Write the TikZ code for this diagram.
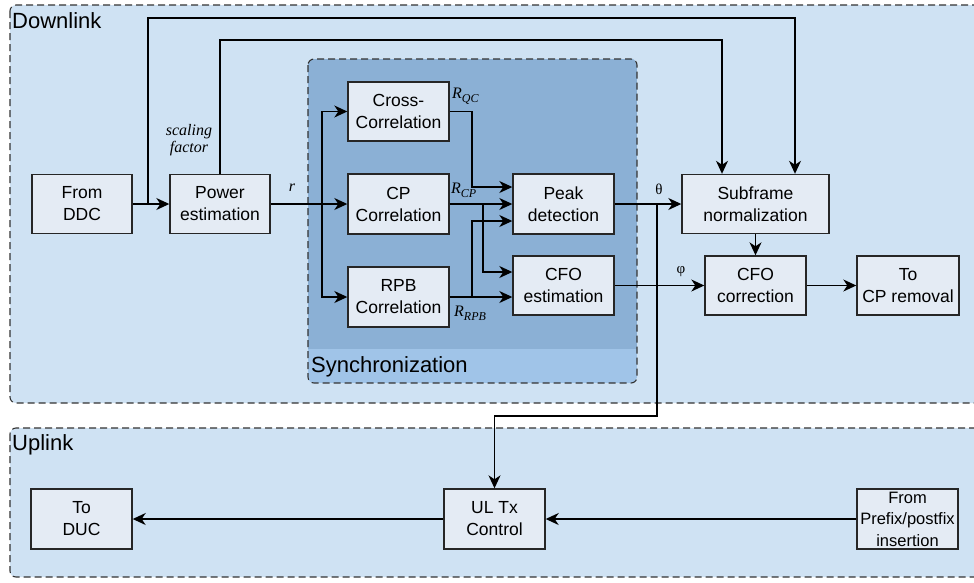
\documentclass[tikz,border=0pt]{standalone}
\usepackage{fontspec}
\setmainfont{Liberation Sans}
\newfontfamily\serifit{Liberation Serif}
\usetikzlibrary{arrows.meta}
\definecolor{regionblue}{RGB}{207,226,243}
\definecolor{syncdark}{RGB}{139,176,213}
\definecolor{syncband}{RGB}{160,196,232}
\definecolor{boxfill}{RGB}{228,235,244}
\begin{document}
\begin{tikzpicture}[x=1pt,y=-1pt,
  blk/.style={draw=black!85, line width=1.4pt, fill=boxfill, align=center,
    inner sep=0pt, font=\fontsize{17.5}{22}\selectfont},
  arr/.style={line width=1.4pt, -{Stealth[length=13pt,width=12pt,inset=4pt]}},
  region/.style={draw=black!80, line width=1.1pt, dash pattern=on 7pt off 4pt, rounded corners=6pt},
  lab/.style={font=\serifit\itshape\fontsize{16}{17}\selectfont, inner sep=0pt, align=center},
  glab/.style={font=\serifit\fontsize{15}{16}\selectfont, inner sep=0pt},
  ttl/.style={font=\fontsize{22}{24}\selectfont, inner sep=0pt, anchor=west}]
\useasboundingbox (0,0) rectangle (974,582);
% regions
\draw[region, fill=regionblue] (10,5) rectangle (1000,403);
\draw[region, fill=regionblue] (10,428) rectangle (1000,577);
\node[ttl] (tdown) at (12,21) {Downlink};
\node[ttl] (tup) at (12,445) {Uplink};
% synchronization
\begin{scope}
\clip[rounded corners=6pt] (308,59) rectangle (637,383);
\fill[syncband] (308,59) rectangle (637,383);
\fill[syncdark] (308,59) rectangle (637,349);
\end{scope}
\draw[region] (308,59) rectangle (637,383);
\node[ttl] (tsync) at (311,367) {Synchronization};
% blocks
\node[blk, minimum width=100pt, minimum height=59pt] (ddc) at (82,204) {From\\DDC};
\node[blk, minimum width=100pt, minimum height=59pt] (pow) at (220,204) {Power\\estimation};
\node[blk, minimum width=101pt, minimum height=59pt] (cross) at (398.5,111.5) {Cross-\\Correlation};
\node[blk, minimum width=101pt, minimum height=60pt] (cp) at (398.5,204) {CP\\Correlation};
\node[blk, minimum width=101pt, minimum height=60pt] (rpb) at (398.5,297) {RPB\\Correlation};
\node[blk, minimum width=101pt, minimum height=60pt] (peak) at (563.5,204) {Peak\\detection};
\node[blk, minimum width=101pt, minimum height=59pt] (cfoest) at (563.5,285.5) {CFO\\estimation};
\node[blk, minimum width=147pt, minimum height=59pt] (sub) at (755.5,204) {Subframe\\normalization};
\node[blk, minimum width=101pt, minimum height=59pt] (cfocor) at (755.5,285.5) {CFO\\correction};
\node[blk, minimum width=102pt, minimum height=59pt] (cprem) at (908,285.5) {To\\CP removal};
\node[blk, minimum width=101pt, minimum height=60pt] (duc) at (81.5,519) {To\\DUC};
\node[blk, minimum width=101pt, minimum height=60pt] (ultx) at (494.5,519) {UL Tx\\Control};
\node[blk, minimum width=101pt, minimum height=60pt, font=\fontsize{16.5}{21.5}\selectfont] (pre) at (907.5,519) {From\\Prefix/postfix\\insertion};
% branch points
\coordinate (b1) at (148,204);
\coordinate (b2) at (322,204);
\coordinate (b3) at (483,204);
\coordinate (b4) at (472,297);
\coordinate (b5) at (657,204);
% connectors
\draw[arr] (ddc) -- (pow);
\draw[arr] (b1) |- (795,18) -- ([xshift=39.5pt]sub.north);
\draw[arr] (pow.north) |- (722,40) -- ([xshift=-33.5pt]sub.north);
\draw[arr] (pow) -- (cp);
\draw[arr] (b2) |- (cross);
\draw[arr] (b2) |- (rpb);
\draw[arr] (cross.east) -| (472,187) -- ([yshift=17pt]peak.west);
\draw[arr] (cp) -- (peak);
\draw[arr] (b3) |- ([yshift=13.5pt]cfoest.west);
\draw[arr] (rpb.east) -- ([yshift=-11.5pt]cfoest.west);
\draw[arr] (b4) |- ([yshift=-17pt]peak.west);
\draw[arr] (peak) -- (sub);
\draw[arr] (b5) -- (657,416) -| (ultx.north);
\draw[arr] (cfoest) -- (cfocor);
\draw[arr] (sub) -- (cfocor);
\draw[arr] (cfocor) -- (cprem);
\draw[arr] (pre) -- (ultx);
\draw[arr] (ultx) -- (duc);
% labels
\node[lab] (lsf) at (189,140) {scaling\\factor};
\node[lab] (lr) at (292,188) {r};
\node[lab, anchor=west] (lqc) at (452,96) {R\raisebox{-4pt}{\fontsize{12}{12}\selectfont QC}};
\node[lab, anchor=west] (lcp) at (451,190) {R\raisebox{-4pt}{\fontsize{12}{12}\selectfont CP}};
\node[lab, anchor=west] (lrpb) at (454,313) {R\raisebox{-4pt}{\fontsize{12}{12}\selectfont RPB}};
\node[glab] (lth) at (659,189) {θ};
\node[glab] (lph) at (681,272) {φ};
\end{tikzpicture}
\end{document}
